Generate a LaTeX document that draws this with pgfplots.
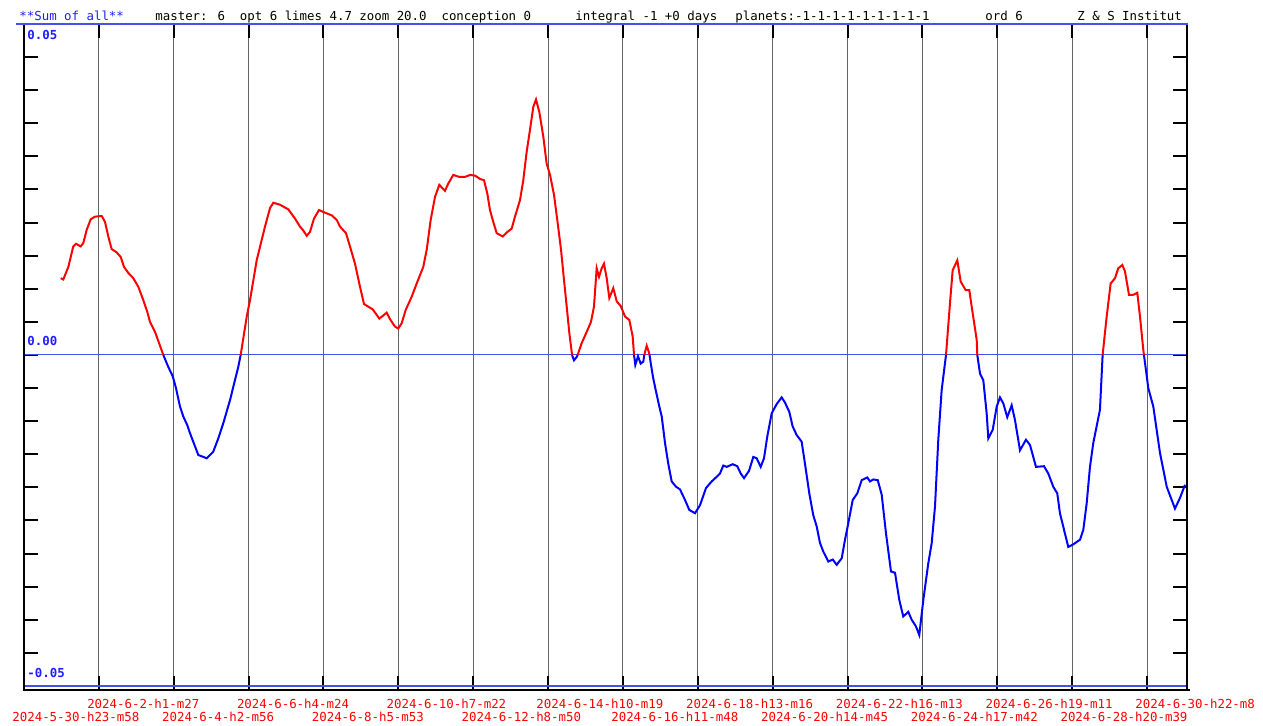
\documentclass[border=0pt]{standalone}
\usepackage{pgfplots}
\usepackage{pgfplotstable}
\pgfplotsset{compat=1.18}
\usepackage{fontspec}
\newfontfamily\chartfont{DejaVu Sans Mono}
\definecolor{zeroblue}{RGB}{70,80,235}
\definecolor{gridgray}{RGB}{100,100,100}
\definecolor{hblue}{RGB}{30,30,255}

\pgfplotstableread{
x y
0.490 0.0116
0.525 0.0114
0.592 0.0133
0.658 0.0164
0.695 0.0168
0.757 0.0164
0.792 0.0169
0.837 0.0189
0.891 0.0205
0.948 0.0209
1.038 0.0210
1.082 0.0201
1.126 0.0179
1.171 0.0160
1.238 0.0155
1.292 0.0148
1.336 0.0133
1.393 0.0124
1.460 0.0116
1.527 0.0103
1.593 0.0083
1.647 0.0065
1.683 0.0050
1.750 0.0035
1.861 0.0000
1.927 -0.0018
1.986 -0.0032
2.030 -0.0050
2.084 -0.0078
2.128 -0.0093
2.181 -0.0106
2.217 -0.0118
2.284 -0.0138
2.328 -0.0151
2.440 -0.0156
2.528 -0.0146
2.595 -0.0126
2.662 -0.0103
2.752 -0.0068
2.818 -0.0038
2.862 -0.0018
2.894 0.0000
2.929 0.0025
2.975 0.0058
3.019 0.0083
3.108 0.0143
3.219 0.0194
3.286 0.0222
3.330 0.0230
3.419 0.0227
3.530 0.0220
3.620 0.0206
3.686 0.0194
3.731 0.0188
3.776 0.0180
3.820 0.0186
3.873 0.0206
3.940 0.0219
4.020 0.0215
4.110 0.0211
4.177 0.0204
4.221 0.0194
4.301 0.0184
4.354 0.0164
4.421 0.0138
4.488 0.0103
4.541 0.0077
4.599 0.0073
4.657 0.0069
4.702 0.0062
4.746 0.0055
4.791 0.0059
4.844 0.0064
4.889 0.0054
4.955 0.0043
4.999 0.0040
5.045 0.0048
5.098 0.0068
5.178 0.0088
5.245 0.0108
5.333 0.0133
5.379 0.0159
5.432 0.0204
5.490 0.0239
5.547 0.0257
5.623 0.0248
5.667 0.0259
5.734 0.0272
5.814 0.0269
5.890 0.0269
5.957 0.0272
6.024 0.0271
6.091 0.0266
6.144 0.0264
6.188 0.0244
6.224 0.0219
6.268 0.0201
6.314 0.0184
6.394 0.0179
6.447 0.0185
6.514 0.0191
6.558 0.0209
6.625 0.0234
6.669 0.0264
6.714 0.0307
6.758 0.0340
6.803 0.0375
6.839 0.0386
6.883 0.0367
6.936 0.0330
6.981 0.0289
7.026 0.0272
7.079 0.0242
7.123 0.0204
7.173 0.0159
7.213 0.0113
7.249 0.0073
7.284 0.0033
7.315 0.0005
7.320 0.0000
7.346 -0.0008
7.382 -0.0003
7.395 0.0000
7.449 0.0018
7.516 0.0035
7.573 0.0050
7.613 0.0073
7.649 0.0131
7.680 0.0118
7.716 0.0131
7.747 0.0138
7.783 0.0116
7.818 0.0086
7.871 0.0101
7.917 0.0081
7.970 0.0074
8.028 0.0058
8.085 0.0053
8.130 0.0028
8.148 0.0000
8.165 -0.0015
8.201 -0.0002
8.237 -0.0013
8.272 -0.0010
8.285 0.0000
8.317 0.0014
8.344 0.0005
8.355 0.0000
8.375 -0.0015
8.401 -0.0033
8.428 -0.0048
8.486 -0.0078
8.518 -0.0093
8.562 -0.0133
8.605 -0.0164
8.651 -0.0191
8.709 -0.0199
8.762 -0.0203
8.829 -0.0219
8.886 -0.0234
8.962 -0.0239
9.029 -0.0227
9.109 -0.0201
9.185 -0.0191
9.252 -0.0184
9.296 -0.0179
9.340 -0.0167
9.386 -0.0169
9.466 -0.0165
9.527 -0.0168
9.573 -0.0179
9.617 -0.0186
9.684 -0.0175
9.741 -0.0154
9.786 -0.0156
9.840 -0.0169
9.884 -0.0156
9.928 -0.0123
9.987 -0.0088
10.054 -0.0074
10.120 -0.0064
10.165 -0.0072
10.222 -0.0086
10.267 -0.0108
10.321 -0.0121
10.387 -0.0131
10.431 -0.0164
10.489 -0.0209
10.542 -0.0242
10.588 -0.0259
10.632 -0.0284
10.676 -0.0297
10.743 -0.0312
10.802 -0.0309
10.855 -0.0317
10.922 -0.0307
10.966 -0.0279
11.010 -0.0254
11.069 -0.0219
11.130 -0.0209
11.189 -0.0189
11.264 -0.0185
11.300 -0.0191
11.344 -0.0188
11.403 -0.0189
11.456 -0.0211
11.513 -0.0269
11.580 -0.0327
11.634 -0.0329
11.691 -0.0370
11.744 -0.0395
11.811 -0.0388
11.857 -0.0400
11.914 -0.0410
11.958 -0.0423
12.012 -0.0370
12.078 -0.0315
12.124 -0.0284
12.168 -0.0229
12.212 -0.0128
12.257 -0.0053
12.315 0.0000
12.368 0.0078
12.404 0.0128
12.466 0.0143
12.511 0.0111
12.578 0.0098
12.626 0.0098
12.658 0.0073
12.725 0.0023
12.733 0.0000
12.769 -0.0028
12.813 -0.0038
12.858 -0.0088
12.880 -0.0126
12.939 -0.0113
12.992 -0.0078
13.036 -0.0064
13.080 -0.0073
13.133 -0.0094
13.192 -0.0076
13.236 -0.0098
13.303 -0.0144
13.383 -0.0128
13.437 -0.0136
13.517 -0.0169
13.624 -0.0168
13.681 -0.0179
13.748 -0.0199
13.801 -0.0209
13.837 -0.0239
13.948 -0.0290
14.015 -0.0286
14.105 -0.0279
14.149 -0.0264
14.194 -0.0224
14.238 -0.0169
14.282 -0.0133
14.371 -0.0083
14.407 0.0000
14.461 0.0058
14.514 0.0108
14.572 0.0116
14.616 0.0131
14.670 0.0136
14.706 0.0126
14.759 0.0091
14.816 0.0091
14.870 0.0094
14.906 0.0058
14.950 0.0008
14.959 0.0000
15.017 -0.0050
15.084 -0.0078
15.173 -0.0148
15.263 -0.0199
15.373 -0.0232
15.440 -0.0216
15.507 -0.0196
}\curvedata

\begin{document}
\begin{tikzpicture}
\begin{axis}[
  scale only axis, width=581.5pt, height=333pt,
  xmin=0, xmax=15.534, ymin=-0.050604, ymax=0.05,
  axis line style={draw=none},
  tick align=inside,
  major tick length=7pt,
  tick style={black, line width=1pt},
  xmajorgrids, grid style={gridgray, line width=0.5pt},
  xtick={0,2,4,6,8,10,12,14},
  xticklabels={2024-5-30-h23-m58,2024-6-4-h2-m56,2024-6-8-h5-m53,2024-6-12-h8-m50,2024-6-16-h11-m48,2024-6-20-h14-m45,2024-6-24-h17-m42,2024-6-28-h20-m39},
  extra x ticks={1,3,5,7,9,11,13,15},
  extra x tick labels={2024-6-2-h1-m27,2024-6-6-h4-m24,2024-6-10-h7-m22,2024-6-14-h10-m19,2024-6-18-h13-m16,2024-6-22-h16-m13,2024-6-26-h19-m11,2024-6-30-h22-m8},
  extra x tick style={grid=major, tick label style={yshift=6.5pt}},
  xticklabel style={font=\chartfont\fontsize{6.2}{7}\selectfont, text=red, anchor=base west, inner sep=0pt, xshift=-6pt, yshift=-16pt},
  ytick={-0.05,-0.045,-0.04,-0.035,-0.03,-0.025,-0.02,-0.015,-0.01,-0.005,0,0.005,0.01,0.015,0.02,0.025,0.03,0.035,0.04,0.045,0.05},
  yticklabels={}, scaled y ticks=false,
]
\coordinate (O) at (rel axis cs:0,0);
\coordinate (NE) at (rel axis cs:1,1);
\draw[zeroblue, line width=0.5pt] (axis cs:0,0) -- (axis cs:15.534,0);
\draw[zeroblue, line width=0.6pt] (axis cs:0,-0.05) -- (axis cs:15.534,-0.05);
\addplot[red, line width=1pt, unbounded coords=jump, y filter/.expression={y<0 ? nan : y}] table[x=x,y=y] {\curvedata};
\addplot[blue, line width=1pt, unbounded coords=jump, y filter/.expression={y>0 ? nan : y}] table[x=x,y=y] {\curvedata};
\node[anchor=base west, inner sep=0pt, text=hblue, font=\chartfont\bfseries\fontsize{6.2}{7}\selectfont, xshift=1.5pt, yshift=-8pt] at (axis cs:0,0.05) {0.05};
\node[anchor=base west, inner sep=0pt, text=hblue, font=\chartfont\bfseries\fontsize{6.2}{7}\selectfont, xshift=1.5pt, yshift=4.5pt] at (axis cs:0,0) {0.00};
\node[anchor=base west, inner sep=0pt, text=hblue, font=\chartfont\bfseries\fontsize{6.2}{7}\selectfont, xshift=1.5pt, yshift=4pt] at (axis cs:0,-0.05) {-0.05};
\end{axis}
\begin{scope}[shift={(O)}, shift={(-12pt,-18pt)}]
% frame
\draw[black, line width=1pt] (12pt,18pt) -- (12pt,351pt);
\draw[black, line width=1pt] (593.5pt,18pt) -- (593.5pt,351pt);
\draw[black, line width=1pt] (11.5pt,18pt) -- (595pt,18pt);
\draw[zeroblue, line width=0.6pt] (8pt,351pt) -- (594pt,351pt);
% header
\begin{scope}[every node/.style={anchor=base west, inner sep=0pt, font=\chartfont\fontsize{6.2}{7}\selectfont}]
\node[text=hblue] at (9.5pt,352.75pt) {**Sum of all**};
\node at (77.5pt,352.75pt) {master: 6\ \ opt 6 limes 4.7 zoom 20.0\ \ conception 0};
\node at (287.5pt,352.75pt) {integral -1 +0 days};
\node at (367.5pt,352.75pt) {planets:-1-1-1-1-1-1-1-1-1};
\node at (492.5pt,352.75pt) {ord 6};
\node at (538.5pt,352.75pt) {Z \& S Institut};
\end{scope}
\pgfresetboundingbox
\path[use as bounding box] (0pt,0pt) rectangle (631.5pt,363pt);
\end{scope}
\end{tikzpicture}
\end{document}
